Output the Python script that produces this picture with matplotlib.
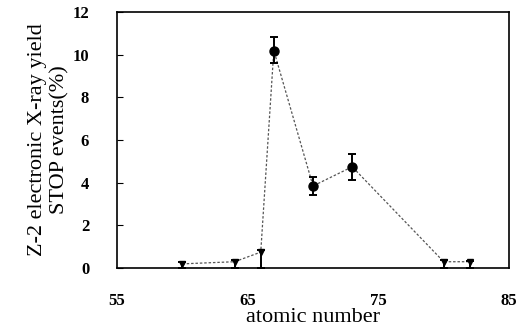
import matplotlib

matplotlib.use("Agg")

import matplotlib.pyplot as plt

plt.rcParams["font.family"] = ["Liberation Serif", "DejaVu Serif"]

# atomic numbers and yields
atomic_number = [60, 64, 66, 67, 70, 73, 80, 82]
yield_pct = [0.2, 0.3, 0.75, 10.2, 3.85, 4.75, 0.3, 0.3]
err_low = [0.2, 0.3, 0.75, 0.6, 0.4, 0.6, 0.3, 0.3]
err_high = [0.1, 0.1, 0.1, 0.65, 0.4, 0.6, 0.1, 0.05]
big_marker = [False, False, False, True, True, True, False, False]

x_ticks = [55, 65, 75, 85]
y_ticks = [0, 2, 4, 6, 8, 10, 12]

fig = plt.figure(figsize=(5.21, 3.36), dpi=100)
ax = fig.add_axes([0.2246, 0.202, 0.7524, 0.762])

ax.plot(atomic_number, yield_pct, color="#555555", linestyle=(0, (2, 1.5)),
        linewidth=0.9, zorder=2)
ax.errorbar(atomic_number, yield_pct, yerr=[err_low, err_high], fmt="none",
            ecolor="black", elinewidth=1.4, capsize=3, capthick=1.4, zorder=3)
bx = [a for a, b in zip(atomic_number, big_marker) if b]
by = [v for v, b in zip(yield_pct, big_marker) if b]
ax.plot(bx, by, "o", color="black", markersize=6.5, zorder=4)
sx = [a for a, b in zip(atomic_number, big_marker) if not b]
sy = [v for v, b in zip(yield_pct, big_marker) if not b]
ax.plot(sx, sy, "v", color="black", markersize=4, zorder=4)

ax.set_xlim(55, 85)
ax.set_ylim(0, 12)
ax.set_xticks(x_ticks)
ax.set_yticks(y_ticks)
ax.tick_params(axis="y", direction="in", length=4, pad=20, labelsize=12)
ax.tick_params(axis="x", direction="in", length=0, pad=18, labelsize=12)
for lab in ax.get_xticklabels() + ax.get_yticklabels():
    lab.set_fontweight("bold")
for sp in ax.spines.values():
    sp.set_linewidth(1.2)

ax.set_xlabel("atomic number", fontsize=16, labelpad=-1)
ax.set_ylabel("Z-2 electronic X-ray yield\nSTOP events(%)", fontsize=16,
              labelpad=2, linespacing=1.25)

fig.savefig("out.png", dpi=100)
